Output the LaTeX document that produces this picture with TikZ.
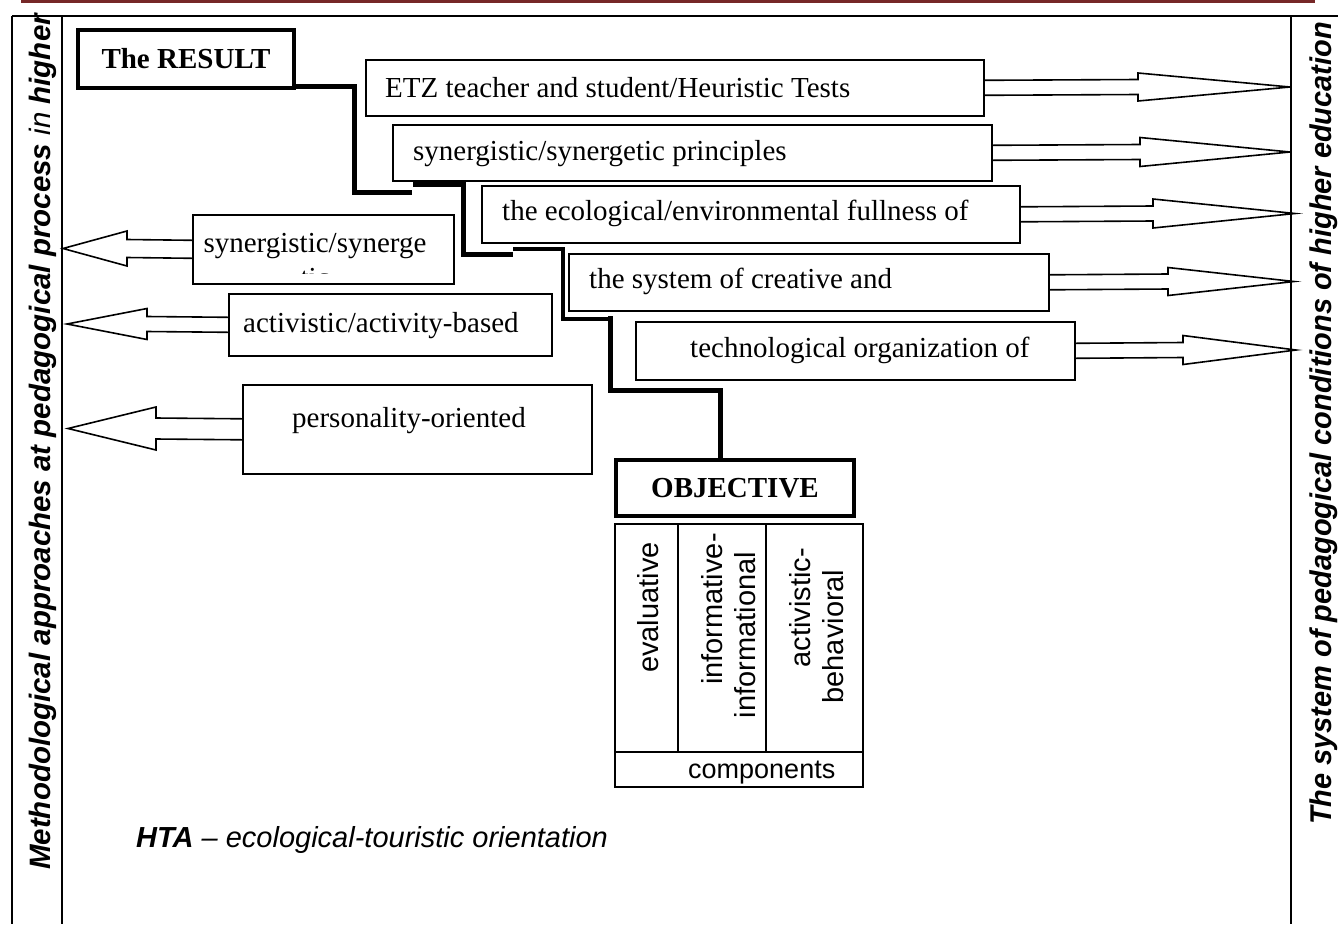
\documentclass[tikz,border=0pt]{standalone}
\usepackage{fontspec}
\usepackage{graphicx}
\setmainfont{Liberation Serif}
\newfontfamily\arialf{Liberation Sans}
\usetikzlibrary{calc}
\definecolor{hdrred}{RGB}{118,40,40}
\begin{document}
\begin{tikzpicture}[x=1pt,y=-1pt,
  fs/.style={font=\fontsize{29}{33}\selectfont},
  sfs/.style={font=\arialf\fontsize{29}{33}\selectfont},
  plainbox/.style={draw, line width=1.6pt, anchor=north west, inner sep=0pt},
  thickbox/.style={draw, line width=4pt, inner sep=0pt, fs, font=\fontsize{29}{33}\selectfont\bfseries},
  txt/.style={fs, anchor=base west, inner sep=0pt},
  arr/.style={draw, line width=1.6pt, line join=miter},
  conn/.style={line width=5pt, line join=miter},
  frame/.style={line width=2pt}
]
\useasboundingbox (0,0) rectangle (1338,924);

% header line and frame
\draw[hdrred, line width=3pt] (21,1.5) -- (1315,1.5);
\draw[frame] (12,16) -- (1338,16);
\draw[frame] (12,16) -- (12,924);
\draw[frame] (62,16) -- (62,924);
\draw[frame] (1291,16) -- (1291,924);

% side texts
\node[rotate=90, anchor=base west, inner sep=0pt, font=\arialf\bfseries\itshape\fontsize{29.5}{33}\selectfont] (lefttitle) at (50,870)
  {Methodological approaches at pedagogical process {\mdseries in} higher};
\node[rotate=90, anchor=base west, inner sep=0pt, font=\arialf\bfseries\itshape\fontsize{30}{34}\selectfont] (righttitle) at (1331,825)
  {\scalebox{0.965}[1]{The system of pedagogical conditions of higher education}};

% RESULT and OBJECTIVE
\node[thickbox, minimum width=216pt, minimum height=58pt] (res) at (186,59) {The RESULT};
\node[thickbox, minimum width=238pt, minimum height=56pt] (obj) at (735,488) {OBJECTIVE};

% right boxes
\node[plainbox, minimum width=618pt, minimum height=56pt] (b1) at (365,59) {};
\node[plainbox, minimum width=599pt, minimum height=56pt] (b2) at (392,124) {};
\node[plainbox, minimum width=538pt, minimum height=57pt] (b3) at (481,185) {};
\node[plainbox, minimum width=480pt, minimum height=57pt] (b4) at (568,253) {};
\node[plainbox, minimum width=439pt, minimum height=58pt] (b5) at (635,321) {};
\node[txt] (t1) at (385,97) {ETZ teacher and student/Heuristic Tests};
\node[txt] (t2) at (413,160) {synergistic/synergetic principles};
\node[txt] (t3) at (502,220) {the ecological/environmental fullness of};
\node[txt] (t4) at (589,288) {the system of creative and};
\node[txt] (t5) at (690,357) {technological organization of};

% left boxes
\node[plainbox, minimum width=261pt, minimum height=69pt] (l1) at (192,214) {};
\node[plainbox, minimum width=323pt, minimum height=62pt] (l2) at (228,293) {};
\node[plainbox, minimum width=349pt, minimum height=89pt] (l3) at (242,384) {};
\node[fs, anchor=base, inner sep=0pt] (s1) at (315,252) {synergistic/synerge};
\begin{scope}
  \clip (193,214) rectangle (452,273);
  \node[fs, anchor=base, inner sep=0pt] (s1b) at (315,287) {tic};
\end{scope}
\node[txt] (s2) at (243,332) {activistic/activity-based};
\node[txt] (s3) at (292,427) {personality-oriented};

% right block arrows
\coordinate (r1) at (1290,87);
\coordinate (r2) at (1290,152);
\coordinate (r3) at (1295,213.5);
\coordinate (r4) at (1294,281.5);
\coordinate (r5) at (1296,350);
\draw[arr] ($(b1.east)+(0,-7.5)$) -- (1138,79.5) -- (1138,73) -- (r1) -- (1138,101) -- (1138,94.5) -- ($(b1.east)+(0,7.5)$);
\draw[arr] ($(b2.east)+(0,-7.5)$) -- (1140,144.5) -- (1140,137.5) -- (r2) -- (1140,166.5) -- (1140,159.5) -- ($(b2.east)+(0,7.5)$);
\draw[arr] ($(b3.east)+(0,-7.5)$) -- (1153,206) -- (1153,199) -- (r3) -- (1153,228) -- (1153,221) -- ($(b3.east)+(0,7.5)$);
\draw[arr] ($(b4.east)+(0,-7.5)$) -- (1168,274) -- (1168,267.5) -- (r4) -- (1168,295.5) -- (1168,289) -- ($(b4.east)+(0,7.5)$);
\draw[arr] ($(b5.east)+(0,-7.5)$) -- (1183,342.5) -- (1183,335.5) -- (r5) -- (1183,364.5) -- (1183,357.5) -- ($(b5.east)+(0,7.5)$);

% left block arrows
\coordinate (q1) at (63,248.5);
\coordinate (q2) at (67,324);
\coordinate (q3) at (68,428.5);
\draw[arr] ($(l1.west)+(0,-9)$) -- (127,239.5) -- (127,231) -- (q1) -- (127,266) -- (127,257.5) -- ($(l1.west)+(0,9)$);
\draw[arr] ($(l2.west)+(0,-7.5)$) -- (147,316.5) -- (147,308.5) -- (q2) -- (147,339.5) -- (147,331.5) -- ($(l2.west)+(0,7.5)$);
\draw[arr] ($(l3.west)+(0,-10.5)$) -- (156,418) -- (156,407) -- (q3) -- (156,450) -- (156,439) -- ($(l3.west)+(0,10.5)$);

% staircase connector RESULT -> OBJECTIVE
\coordinate (a0) at (296,86);
\coordinate (a1) at (354,86);
\coordinate (a2) at (354,192);
\coordinate (a3) at (412,192);
\coordinate (bb0) at (413,184);
\coordinate (bb1) at (463,184);
\coordinate (bb2) at (463,254);
\coordinate (bb3) at (513,254);
\coordinate (c0) at (513,249);
\coordinate (c1) at (563,249);
\coordinate (c2) at (563,319);
\coordinate (c3) at (613,319);
\coordinate (d0) at (610.5,316);
\coordinate (d1) at (610.5,390.5);
\coordinate (d2) at (720.5,390.5);
\draw[conn] (a0) -- (a1) -- (a2) -- (a3);
\draw[conn] (bb0) -- (bb1) -- (bb2) -- (bb3);
\draw[conn, line width=4pt] (c0) -- (c1) -- (c2) -- (c3);
\draw[conn] (d0) -- (d1) -- (d2) -- (d2 |- obj.north);

% components table
\node[plainbox, line width=2pt, minimum width=248pt, minimum height=263pt] (tbl) at (614,523) {};
\draw[line width=2pt] (678,523) -- (678,752);
\draw[line width=2pt] (766,523) -- (766,752);
\draw[line width=2pt] (614,752) -- (862,752);
\node[sfs, rotate=90, anchor=base, inner sep=0pt] (e1) at (658,607.5) {evaluative};
\node[sfs, rotate=90, anchor=base, inner sep=0pt] (e2) at (722,609) {informative-};
\node[sfs, rotate=90, anchor=base, inner sep=0pt] (e3) at (755,635) {informational};
\node[sfs, rotate=90, anchor=base, inner sep=0pt] (e4) at (810,607.5) {activistic-};
\node[sfs, rotate=90, anchor=base, inner sep=0pt] (e5) at (843,636.5) {behavioral};
\node[anchor=base west, inner sep=0pt, font=\arialf\fontsize{27}{31}\selectfont] (comp) at (688,778) {components};

% note
\node[anchor=base west, inner sep=0pt, font=\arialf\itshape\fontsize{29}{33}\selectfont] (hta) at (136,847)
  {{\bfseries HTA} – ecological-touristic orientation};
\end{tikzpicture}
\end{document}
